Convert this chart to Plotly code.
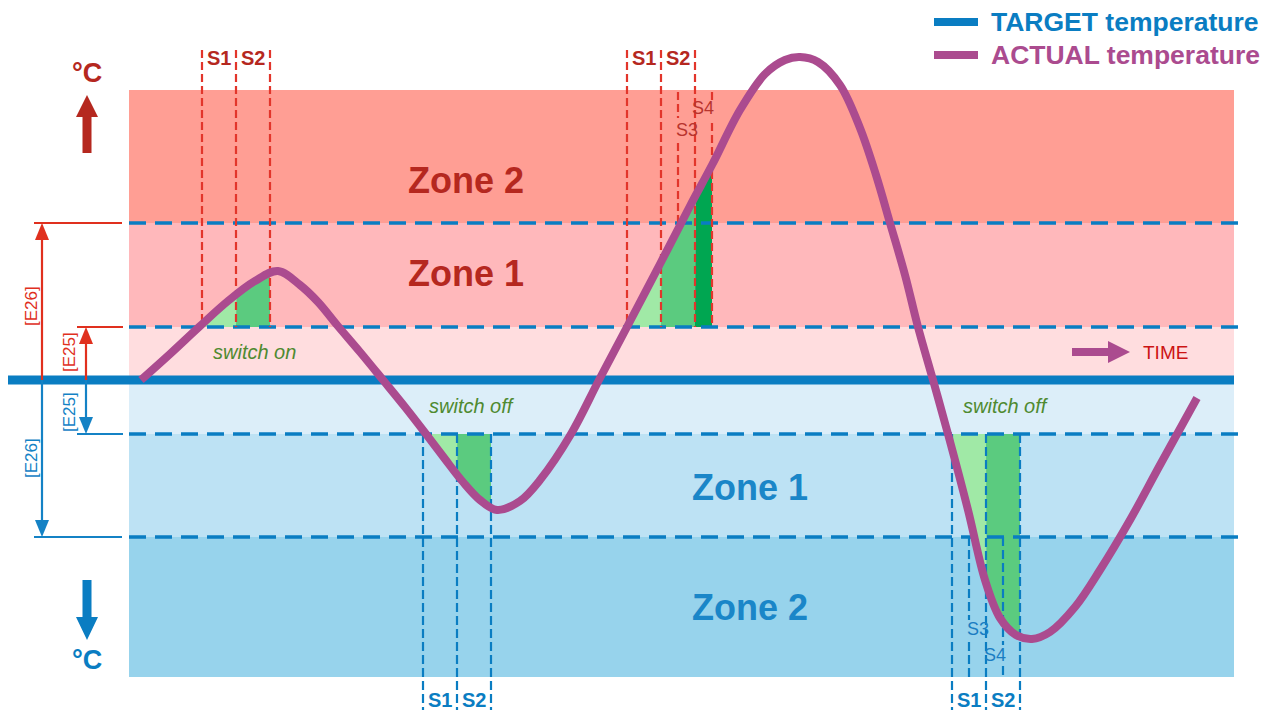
import numpy as np
import plotly.graph_objects as go

# ---------------- data ----------------
# time axis (arbitrary units) and ACTUAL temperature relative to TARGET (0)
time = [141, 170, 199, 228, 255, 278, 300, 318, 337, 360, 383, 405, 426, 445, 463,
        480, 497, 520, 540, 571, 599, 627, 660, 690, 712, 740, 765, 785, 800, 818,
        840, 860, 876, 890, 905, 918, 933, 948, 968, 985, 1000, 1016, 1032, 1050,
        1075, 1100, 1130, 1160, 1197]
actual_temp = [0, 26, 53, 79, 99, 109, 95, 78, 55, 28, 0, -27, -54, -79, -102,
               -120, -130, -121, -100, -54, 0, 53, 116, 174, 215, 270, 306, 320, 323, 318,
               295, 252, 205, 157, 105, 53, 0, -54, -130, -200, -238, -255, -259, -252,
               -227, -190, -140, -85, -18]
target_temp = 0

# thresholds: E25 / E26 above and below target, outer zone limits
E25_hot, E26_hot, zone2_hot_top = 53, 157, 290
E25_cold, E26_cold, zone2_cold_bottom = -54, -157, -297
zone_edges = [zone2_hot_top, E26_hot, E25_hot, target_temp, E25_cold, E26_cold, zone2_cold_bottom]
zone_colors = ["#FF9E94", "#FFB8BB", "#FFDDDF", "#DCEEF9", "#BDE2F4", "#97D3EC"]
time_start, time_end = 129, 1234

# switching stage times (S1, S2, end)
hot_switch_a = [202, 236, 270]
hot_switch_b = [627, 661, 695]
hot_switch_b_s3, hot_switch_b_s4 = 678, 712
cold_switch_a = [423, 457, 491]
cold_switch_b = [952, 986, 1020]
cold_switch_b_s3, cold_switch_b_s4 = 969, 1003

# ---------------- style ----------------
FONT = "Liberation Sans, Arial, sans-serif"
RED_TXT = "#B5281F"
RED_LINE = "#E2352B"
BLUE = "#0A7DC2"
BLUE_TXT = "#1A86C8"
PURPLE = "#AB4B8F"
GREEN_L, GREEN_M, GREEN_D = "#A0E9A6", "#5BCB7F", "#00A651"
GREEN_TXT = "#4F8A30"

fig = go.Figure()
shapes = []
annotations = []

# zone backgrounds
for top, bot, col in zip(zone_edges[:-1], zone_edges[1:], zone_colors):
    shapes.append(dict(type="rect", xref="x", yref="y", x0=time_start, x1=time_end,
                       y0=bot, y1=top, fillcolor=col, line_width=0, layer="below"))


def add_fill(x0, x1, base, side, color):
    xs = np.linspace(x0, x1, 80)
    ys = np.interp(xs, time, actual_temp)
    ys = np.maximum(ys, base) if side == "hot" else np.minimum(ys, base)
    px = [x0] + list(xs) + [x1]
    py = [base] + list(ys) + [base]
    fig.add_trace(go.Scatter(x=px, y=py, mode="lines", fill="toself", fillcolor=color,
                             line=dict(width=0, color=color), hoverinfo="skip"))


add_fill(hot_switch_a[0], hot_switch_a[1], E25_hot, "hot", GREEN_L)
add_fill(hot_switch_a[1], hot_switch_a[2], E25_hot, "hot", GREEN_M)
add_fill(hot_switch_b[0], hot_switch_b[1], E25_hot, "hot", GREEN_L)
add_fill(hot_switch_b[1], hot_switch_b[2], E25_hot, "hot", GREEN_M)
add_fill(hot_switch_b[2], hot_switch_b_s4, E25_hot, "hot", GREEN_D)
add_fill(cold_switch_a[0], cold_switch_a[1], E25_cold, "cold", GREEN_L)
add_fill(cold_switch_a[1], cold_switch_a[2], E25_cold, "cold", GREEN_M)
add_fill(cold_switch_b[0], cold_switch_b[1], E25_cold, "cold", GREEN_L)
add_fill(cold_switch_b[1], cold_switch_b[2], E25_cold, "cold", GREEN_M)


def seg(xs, ys, color, width, dash=None):
    fig.add_trace(go.Scatter(x=xs, y=ys, mode="lines", hoverinfo="skip",
                             line=dict(color=color, width=width, dash=dash)))


# dashed threshold lines
for lvl in [E26_hot, E25_hot, E25_cold, E26_cold]:
    seg([time_start, time_end + 6], [lvl, lvl], BLUE, 3.3, "17px,9px")

# vertical stage lines
S_TOP, S_BOTTOM = 330, -330
for x in hot_switch_a + hot_switch_b:
    seg([x, x], [S_TOP, E25_hot], RED_LINE, 2.2, "8px,4px")
for x in cold_switch_a + cold_switch_b:
    seg([x, x], [E25_cold, S_BOTTOM], BLUE, 2.2, "9px,4px")
s3_curve = float(np.interp(hot_switch_b_s3, time, actual_temp))
seg([hot_switch_b_s3] * 2, [zone2_hot_top - 2, 262], RED_LINE, 2.2, "8px,4px")
seg([hot_switch_b_s3] * 2, [237, s3_curve], RED_LINE, 2.2, "8px,4px")
seg([hot_switch_b_s4] * 2, [zone2_hot_top - 2, 279], RED_LINE, 2.2, "8px,4px")
seg([hot_switch_b_s4] * 2, [257, E25_hot], RED_LINE, 2.2, "8px,4px")
seg([cold_switch_b_s3] * 2, [E26_cold, -240], BLUE, 2.2, "9px,4px")
seg([cold_switch_b_s3] * 2, [-262, zone2_cold_bottom], BLUE, 2.2, "9px,4px")
seg([cold_switch_b_s4] * 2, [E26_cold, -265], BLUE, 2.2, "9px,4px")
seg([cold_switch_b_s4] * 2, [-286, zone2_cold_bottom], BLUE, 2.2, "9px,4px")

# target temperature line
seg([8, time_end], [target_temp, target_temp], BLUE, 9)

# E25 / E26 dimension arrows
E_RED, E_BLUE = "#E0301E", "#1482C5"


def dim_arrow(x, tick_x0, tick_x1, level, color):
    sign = 1 if level > 0 else -1
    head = 17
    seg([x, x], [target_temp, level - sign * head], color, 2.2)
    seg([tick_x0, tick_x1], [level, level], color, 2)
    shapes.append(dict(type="path", xref="x", yref="y", line_width=0, fillcolor=color,
                       path=f"M{x-7},{level - sign*head} L{x},{level} L{x+7},{level - sign*head} Z"))


dim_arrow(42, 34, 122, E26_hot, E_RED)
dim_arrow(86, 77, 123, E25_hot, E_RED)
dim_arrow(86, 77, 123, E25_cold, E_BLUE)
dim_arrow(42, 34, 122, E26_cold, E_BLUE)

# actual temperature curve
fig.add_trace(go.Scatter(x=time, y=actual_temp, mode="lines", hoverinfo="skip",
                         line=dict(color=PURPLE, width=8, shape="spline", smoothing=1.0)))


def big_arrow(x, y_tail, y_base, y_tip, color, shaft=9, half=11):
    shapes.append(dict(type="path", xref="x", yref="y", line_width=0, fillcolor=color,
                       path=(f"M{x-shaft/2},{y_tail} L{x-shaft/2},{y_base} L{x-half},{y_base} "
                             f"L{x},{y_tip} L{x+half},{y_base} L{x+shaft/2},{y_base} "
                             f"L{x+shaft/2},{y_tail} Z")))


big_arrow(87, 227, 263, 285, "#B5281F")
big_arrow(87, -200, -237, -260, "#0A7DC2")

# TIME arrow (horizontal)
tx0, tx_base, tx_tip, ty = 1072, 1108, 1130, 28
shapes.append(dict(type="path", xref="x", yref="y", line_width=0, fillcolor=PURPLE,
                   path=(f"M{tx0},{ty+4} L{tx_base},{ty+4} L{tx_base},{ty+11} L{tx_tip},{ty} "
                         f"L{tx_base},{ty-11} L{tx_base},{ty-4} L{tx0},{ty-4} Z")))

# legend bars
shapes.append(dict(type="rect", xref="x", yref="y", x0=934, x1=978, y0=354, y1=362,
                   fillcolor=BLUE, line_width=0))
shapes.append(dict(type="rect", xref="x", yref="y", x0=934, x1=978, y0=321, y1=329,
                   fillcolor=PURPLE, line_width=0))


def txt(x, y, s, size, color, bold=False, italic=False, angle=0, xanchor="center"):
    t = s
    if bold:
        t = f"<b>{t}</b>"
    if italic:
        t = f"<i>{t}</i>"
    annotations.append(dict(x=x, y=y, xref="x", yref="y", text=t, showarrow=False,
                            textangle=angle, xanchor=xanchor, yanchor="middle",
                            font=dict(family=FONT, size=size, color=color)))


# legend texts
txt(989, 358, "TARGET temperature", 26.5, BLUE, bold=True, xanchor="left")
txt(989, 325, "ACTUAL temperature", 26.5, PURPLE, bold=True, xanchor="left")

# zone labels
txt(466, 200, "Zone 2", 36, RED_TXT, bold=True)
txt(466, 107, "Zone 1", 36, RED_TXT, bold=True)
txt(750, -107, "Zone 1", 36, BLUE_TXT, bold=True)
txt(750, -227, "Zone 2", 36, BLUE_TXT, bold=True)

# °C labels
txt(87, 307, "°C", 27, "#B5281F", bold=True)
txt(87, -280, "°C", 27, "#0A7DC2", bold=True)

# switch texts
txt(254, 28, "switch on", 20, GREEN_TXT, italic=True)
txt(472, -26, "switch off", 20, GREEN_TXT, italic=True)
txt(1006, -26, "switch off", 20, GREEN_TXT, italic=True)
txt(1165, 28, "TIME", 19, "#CC1414")

# stage labels
for xs_ in (hot_switch_a, hot_switch_b):
    txt((xs_[0] + xs_[1]) / 2, 322, "S1", 20, RED_TXT, bold=True)
    txt((xs_[1] + xs_[2]) / 2, 322, "S2", 20, RED_TXT, bold=True)
for xs_ in (cold_switch_a, cold_switch_b):
    txt((xs_[0] + xs_[1]) / 2, -320, "S1", 20, BLUE, bold=True)
    txt((xs_[1] + xs_[2]) / 2, -320, "S2", 20, BLUE, bold=True)
txt(687, 250, "S3", 18, "#B8342E")
txt(703, 272, "S4", 18, "#B8342E")
txt(978, -249, "S3", 18, "#1A7DC2")
txt(995, -275, "S4", 18, "#1A7DC2")

# E labels
txt(31, 74, "[E26]", 17, E_RED, angle=-90)
txt(69, 28, "[E25]", 17, E_RED, angle=-90)
txt(69, -32, "[E25]", 17, E_BLUE, angle=-90)
txt(31, -78, "[E26]", 17, E_BLUE, angle=-90)

fig.update_layout(
    width=1278, height=710, margin=dict(l=0, r=0, t=0, b=0),
    paper_bgcolor="white", plot_bgcolor="white", showlegend=False,
    xaxis=dict(range=[0, 1278], visible=False, fixedrange=True),
    yaxis=dict(range=[-330, 380], visible=False, fixedrange=True),
    shapes=shapes, annotations=annotations,
)

fig.write_html("out.html", config={"displayModeBar": False},
               post_script="document.body.style.margin='0';document.body.style.overflow='hidden';")
